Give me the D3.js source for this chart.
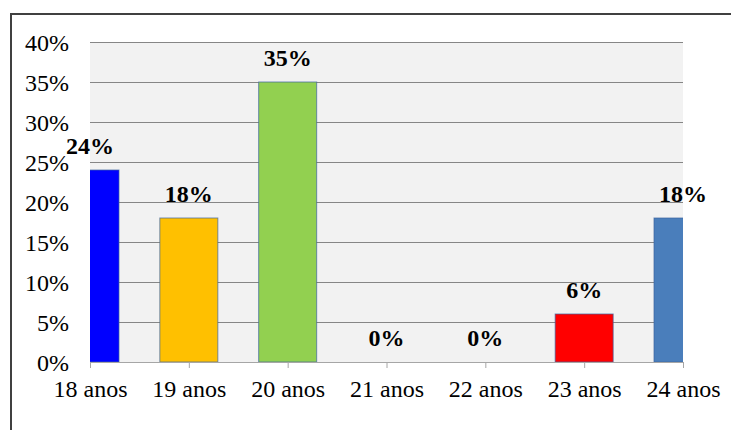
<!DOCTYPE html>
<html lang="pt">
<head>
<meta charset="UTF-8">
<title>Idade</title>
<style>
    body { margin: 0; background: #fff; }
    svg { display: block; }
    text { font-family: "Liberation Serif", "Times New Roman", serif; }
</style>
</head>
<body>
<svg id="chart" width="731" height="430"></svg>
<script src="https://d3js.org/d3.v7.min.js"></script>
<script>
// data
var categories = ["18 anos", "19 anos", "20 anos", "21 anos", "22 anos", "23 anos", "24 anos"];
var values = [24, 18, 35, 0, 0, 6, 18];
var colors = ["#0000ff", "#ffc000", "#92d050", "#4f81bd", "#4f81bd", "#ff0000", "#4a7ebb"];
var yTicks = [0, 5, 10, 15, 20, 25, 30, 35, 40];

var data = categories.map(function(c, i) {
    return { cat: c, value: values[i], color: colors[i] };
});

var svg = d3.select("#chart");

// outer frame (runs off the right and bottom edges)
svg.append("rect")
   .attr("x", 11).attr("y", 14)
   .attr("width", 760).attr("height", 460)
   .attr("fill", "none")
   .attr("stroke", "#404040")
   .attr("stroke-width", 2);

var plotLeft = 90, plotRight = 683, plotTop = 42, plotBottom = 362;

var x = d3.scalePoint()
          .domain(categories)
          .range([plotLeft, plotRight]);

var y = d3.scaleLinear()
          .domain([0, 40])
          .range([plotBottom, plotTop]);

var barWidth = 58;

// plot background
svg.append("rect")
   .attr("x", plotLeft).attr("y", plotTop)
   .attr("width", plotRight - plotLeft).attr("height", plotBottom - plotTop)
   .attr("fill", "#f2f2f2");

// gridlines
svg.append("g")
   .selectAll("line")
   .data(yTicks.slice(1))
   .enter().append("line")
   .attr("x1", plotLeft).attr("x2", plotRight)
   .attr("y1", function(d) { return y(d) + 0.5; })
   .attr("y2", function(d) { return y(d) + 0.5; })
   .attr("stroke", "#868686")
   .attr("stroke-width", 1);

// clip so the end bars are cut at the plot edges
svg.append("clipPath").attr("id", "plot-clip")
   .append("rect")
   .attr("x", plotLeft).attr("y", plotTop - 5)
   .attr("width", plotRight - plotLeft).attr("height", plotBottom - plotTop + 5);

svg.append("g")
   .attr("clip-path", "url(#plot-clip)")
   .selectAll("rect")
   .data(data.filter(function(d) { return d.value > 0; }))
   .enter().append("rect")
   .attr("x", function(d) { return x(d.cat) - barWidth / 2; })
   .attr("y", function(d) { return y(d.value); })
   .attr("width", barWidth)
   .attr("height", function(d) { return plotBottom - y(d.value); })
   .attr("fill", function(d) { return d.color; })
   .attr("stroke", "#3c64a0")
   .attr("stroke-opacity", 0.7)
   .attr("stroke-width", 1);

// x axis
var xAxis = svg.append("g")
   .attr("transform", "translate(0," + plotBottom + ")")
   .call(d3.axisBottom(x).tickSize(6).tickPadding(12));
xAxis.select(".domain").attr("stroke", "#a6a6a6").attr("d", "M" + plotLeft + ",0.5H" + plotRight);
xAxis.selectAll(".tick line").attr("stroke", "#a6a6a6");
xAxis.selectAll(".tick text")
     .attr("font-family", "Liberation Serif, Times New Roman, serif")
     .attr("font-size", 24)
     .attr("fill", "#000");

// y axis labels
var yAxis = svg.append("g")
   .attr("transform", "translate(" + plotLeft + ",0)")
   .call(d3.axisLeft(y).tickValues(yTicks).tickSize(0).tickPadding(21)
           .tickFormat(function(d) { return d + "%"; }));
yAxis.select(".domain").remove();
yAxis.selectAll(".tick text")
     .attr("font-family", "Liberation Serif, Times New Roman, serif")
     .attr("font-size", 24)
     .attr("dy", "0.35em")
     .attr("fill", "#000");

// value labels
svg.append("g")
   .selectAll("text")
   .data(data)
   .enter().append("text")
   .attr("x", function(d) { return x(d.cat); })
   .attr("y", function(d) { return y(d.value) - 16; })
   .attr("text-anchor", "middle")
   .attr("font-size", 24)
   .attr("font-weight", "bold")
   .attr("fill", "#000")
   .text(function(d) { return d.value + "%"; });
</script>
</body>
</html>
